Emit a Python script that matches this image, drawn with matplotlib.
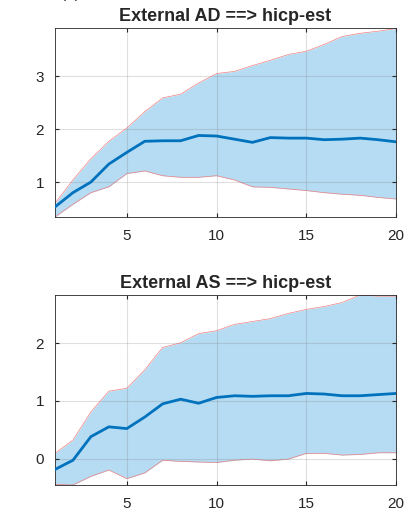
import matplotlib
matplotlib.use("Agg")
import matplotlib.pyplot as plt
import numpy as np

plt.rcParams['font.family'] = ['Liberation Sans', 'DejaVu Sans']

horizon = list(range(1, 21))

ad_median = [0.53, 0.80, 1.00, 1.34, 1.56, 1.77, 1.78, 1.78, 1.88, 1.87,
             1.81, 1.75, 1.84, 1.83, 1.83, 1.80, 1.81, 1.83, 1.80, 1.76]
ad_upper = [0.60, 1.04, 1.44, 1.77, 2.02, 2.33, 2.59, 2.66, 2.87, 3.05,
            3.09, 3.20, 3.30, 3.41, 3.47, 3.60, 3.75, 3.81, 3.85, 3.90]
ad_lower = [0.34, 0.58, 0.80, 0.91, 1.16, 1.21, 1.12, 1.09, 1.09, 1.12,
            1.04, 0.91, 0.90, 0.87, 0.84, 0.80, 0.77, 0.75, 0.71, 0.68]

as_median = [-0.19, -0.03, 0.38, 0.55, 0.52, 0.72, 0.95, 1.03, 0.96, 1.06,
             1.09, 1.08, 1.09, 1.09, 1.13, 1.12, 1.09, 1.09, 1.11, 1.13]
as_upper = [0.09, 0.32, 0.81, 1.17, 1.22, 1.54, 1.93, 2.01, 2.17, 2.22,
            2.33, 2.38, 2.43, 2.52, 2.59, 2.64, 2.71, 2.84, 2.82, 2.82]
as_lower = [-0.45, -0.46, -0.31, -0.20, -0.35, -0.25, -0.03, -0.05, -0.06, -0.07,
            -0.03, -0.01, -0.04, -0.01, 0.09, 0.09, 0.06, 0.07, 0.10, 0.10]

titles = ["External AD ==> hicp-est", "External AS ==> hicp-est"]
x_ticks = [5, 10, 15, 20]
y_ticks_list = [[1, 2, 3], [0, 1, 2]]
ylims = [(0.34, 3.91), (-0.46, 2.84)]

W, H = 412, 515
fig = plt.figure(figsize=(W / 100, H / 100), dpi=100)

boxes = [(55, 28, 396, 217), (55, 295, 396, 485)]
series = [(ad_median, ad_upper, ad_lower), (as_median, as_upper, as_lower)]

for i, (l, t, r, b) in enumerate(boxes):
    ax = fig.add_axes([l / W, 1 - b / H, (r - l) / W, (b - t) / H])
    med, up, lo = series[i]
    ax.fill_between(horizon, lo, up, color="#b5dcf3", linewidth=0, zorder=1)
    ax.plot(horizon, up, color="#f08080", linewidth=0.5, zorder=2)
    ax.plot(horizon, lo, color="#f08080", linewidth=0.5, zorder=2)
    ax.plot(horizon, med, color="#0072BD", linewidth=2.0, zorder=3)
    ax.set_xlim(1, 20)
    ax.set_ylim(*ylims[i])
    ax.set_xticks(x_ticks)
    ax.set_yticks(y_ticks_list[i])
    ax.grid(True, color="#808080", alpha=0.25, linewidth=0.8)
    ax.set_axisbelow(False)
    ax.tick_params(direction="in", length=3, labelsize=11, colors="#262626",
                   top=True, right=True)
    ax.tick_params(axis="x", pad=9)
    ax.tick_params(axis="y", pad=8)
    for s in ax.spines.values():
        s.set_color("#262626")
        s.set_linewidth(0.6)
    ax.set_title(titles[i], fontsize=13, fontweight="bold", color="#262626", pad=5)

fig.text(70 / W, 1 + 6 / H, "(a)", fontsize=11, ha="center", va="center", color="#262626")

fig.savefig("out.png", dpi=100)
